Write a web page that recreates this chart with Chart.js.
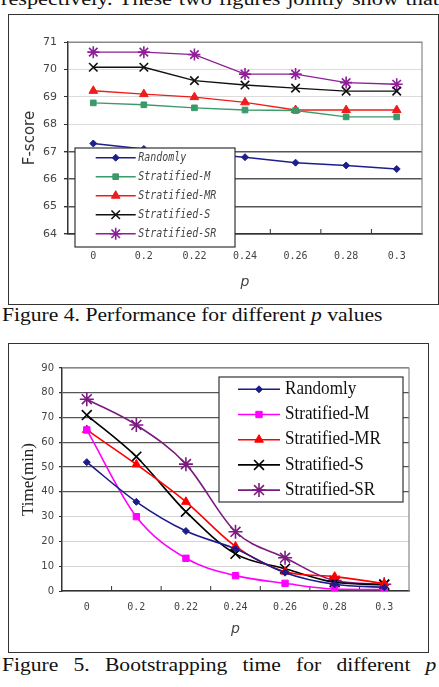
<!DOCTYPE html>
<html>
<head>
<meta charset="utf-8">
<script src="https://cdn.jsdelivr.net/npm/chart.js@4.4.0/dist/chart.umd.min.js"></script>
<style>
    body { margin: 0; width: 439px; height: 687px; overflow: hidden; background: #fff; position: relative; font-family: "Liberation Serif", serif; color: #111; }
    .para { position: absolute; left: 1px; white-space: nowrap; font-size: 19px; line-height: 20px; transform: scaleX(1.17); transform-origin: left top; word-spacing: 1px; }
    .box { position: absolute; border: 1.5px solid #333; box-sizing: border-box; }
    canvas { position: absolute; }
    .cap { position: absolute; left: 2px; font-size: 18px; line-height: 20px; white-space: nowrap; transform: scaleX(1.2); transform-origin: left top; }
    .justify { width: 362px; text-align: justify; text-align-last: justify; white-space: normal; }
</style>
</head>
<body>
<div class="para" style="top:-11px">respectively. These two figures jointly show that</div>

<div class="box" style="left:8px; top:14px; width:431px; height:291px;"></div>
<canvas id="fscoreChart" width="430" height="291" style="left:8px; top:14px;"></canvas>
<div class="cap" style="top:305px">Figure 4. Performance for different <i>p</i> values</div>

<div class="box" style="left:8px; top:343px; width:421px; height:310px;"></div>
<canvas id="timeChart" width="420" height="309" style="left:8px; top:343px;"></canvas>
<div class="cap justify" style="top:655px">Figure 5. Bootstrapping time for different <i>p</i></div>

<script>
// x categories (p values)
const pValues = ['0', '0.2', '0.22', '0.24', '0.26', '0.28', '0.3'];
const seriesNames = ['Randomly', 'Stratified-M', 'Stratified-MR', 'Stratified-S', 'Stratified-SR'];

// Figure 4: F-score
const fscoreTicks = { min: 64, max: 71, step: 1 };
const fscoreRandomly = [67.3, 67.1, 66.95, 66.8, 66.6, 66.5, 66.37];
const fscoreM = [68.78, 68.71, 68.6, 68.52, 68.5, 68.27, 68.27];
const fscoreMR = [69.22, 69.1, 68.99, 68.8, 68.52, 68.52, 68.52];
const fscoreS = [70.08, 70.08, 69.59, 69.43, 69.32, 69.21, 69.21];
const fscoreSR = [70.63, 70.63, 70.54, 69.83, 69.83, 69.52, 69.46];

// Figure 5: bootstrapping time (min)
const timeTicks = { min: 0, max: 90, step: 10 };
const timeRandomly = [52, 36, 24.2, 17, 7.4, 2.7, 1.5];
const timeM = [65, 30, 13.2, 6.2, 3.1, 0.8, 0.6];
const timeMR = [65, 51.1, 36, 18, 7.8, 5.8, 3];
const timeS = [71, 54.2, 32, 15, 9, 3.5, 2.5];
const timeSR = [77.4, 67, 51.2, 23.9, 13.4, 4.2, 2.7];

// legend drawn inside the plot, Excel style
const boxLegend = {
    id: 'boxLegend',
    afterDraw(chart, args, opts) {
        const ctx = chart.ctx;
        ctx.save();
        ctx.fillStyle = '#fff';
        ctx.fillRect(opts.x, opts.y, opts.w, opts.h);
        ctx.strokeStyle = '#333';
        ctx.lineWidth = 1.2;
        ctx.strokeRect(opts.x, opts.y, opts.w, opts.h);
        chart.data.datasets.forEach((ds, i) => {
            const y = opts.rowY + i * opts.rowGap;
            ctx.strokeStyle = ds.borderColor;
            ctx.lineWidth = ds.borderWidth;
            ctx.beginPath();
            ctx.moveTo(opts.lineX0, y);
            ctx.lineTo(opts.lineX1, y);
            ctx.stroke();
            ctx.fillStyle = ds.pointBackgroundColor;
            ctx.lineWidth = ds.pointBorderWidth;
            Chart.helpers.drawPoint(ctx, {
                pointStyle: ds.pointStyle, radius: ds.pointRadius, borderWidth: ds.pointBorderWidth, rotation: 0
            }, (opts.lineX0 + opts.lineX1) / 2, y);
            ctx.font = opts.font;
            ctx.fillStyle = opts.color;
            ctx.textBaseline = 'middle';
            ctx.save();
            ctx.translate(opts.textX, y);
            ctx.scale(opts.sx, 1);
            ctx.fillText(ds.label, 0, 0);
            ctx.restore();
        });
        ctx.restore();
    }
};

// top/right plot border and inward tick marks between categories
const plotFrame = {
    id: 'plotFrame',
    beforeDatasetsDraw(chart, args, opts) {
        const { ctx, chartArea: a } = chart;
        const xs = chart.scales.x;
        ctx.save();
        ctx.strokeStyle = '#888';
        ctx.lineWidth = 1.2;
        ctx.beginPath();
        ctx.moveTo(a.left, a.top);
        ctx.lineTo(a.right, a.top);
        ctx.lineTo(a.right, a.bottom);
        ctx.stroke();
        ctx.strokeStyle = '#333';
        ctx.lineWidth = 1;
        ctx.beginPath();
        for (let i = 1; i < chart.data.labels.length; i++) {
            const x = (xs.getPixelForValue(i - 1) + xs.getPixelForValue(i)) / 2;
            ctx.moveTo(x, a.bottom);
            ctx.lineTo(x, a.bottom - opts.tickLen);
        }
        ctx.stroke();
        ctx.restore();
    }
};

function makeSeries(label, data, color, style, radius, width) {
    return {
        label: label,
        data: data,
        borderColor: color,
        backgroundColor: color,
        pointBackgroundColor: color,
        pointBorderColor: color,
        pointStyle: style,
        pointRadius: radius,
        pointHoverRadius: radius,
        pointBorderWidth: style === 'crossRot' || style === 'star' ? 1.6 : 1,
        borderWidth: width
    };
}

// Figure 4
new Chart(document.getElementById('fscoreChart'), {
    type: 'line',
    data: {
        labels: pValues,
        datasets: [
            makeSeries(seriesNames[0], fscoreRandomly, '#1f1f8c', 'rectRot', 3.5, 1.4),
            makeSeries(seriesNames[1], fscoreM, '#3a9a6c', 'rect', 4, 1.4),
            makeSeries(seriesNames[2], fscoreMR, '#ee1c1c', 'triangle', 5, 1.4),
            makeSeries(seriesNames[3], fscoreS, '#111111', 'crossRot', 6, 1.4),
            makeSeries(seriesNames[4], fscoreSR, '#8e1f98', 'star', 6, 1.4)
        ]
    },
    options: {
        responsive: false,
        animation: false,
        layout: { padding: { top: 28, right: 16, left: 0, bottom: 0 } },
        elements: { line: { tension: 0 } },
        scales: {
            x: {
                offset: true,
                grid: { display: false, drawTicks: false },
                border: { display: true, color: '#333', width: 1.5 },
                ticks: { font: { family: 'DejaVu Sans Mono', size: 10 }, color: '#444', padding: 16 },
                title: { display: true, text: 'p', color: '#444', font: { family: 'DejaVu Sans', style: 'italic', size: 14 }, padding: { top: 0, bottom: 14 } },
                afterFit: scale => { scale.height = 71; }
            },
            y: {
                min: fscoreTicks.min,
                max: fscoreTicks.max,
                ticks: { stepSize: fscoreTicks.step, font: { family: 'DejaVu Sans', size: 11 }, color: '#444', padding: 7 },
                grid: {
                    tickLength: 4,
                    tickColor: '#333',
                    color: c => c.tick.value === fscoreTicks.max ? '#888' : (c.tick.value >= 68 ? '#dcdcdc' : '#555'),
                    lineWidth: c => c.tick.value >= 68 ? 1 : 1.4
                },
                border: { display: true, color: '#333', width: 1.5 },
                title: { display: true, text: 'F-score', color: '#333', font: { family: 'DejaVu Sans', size: 15 }, padding: { top: 13, bottom: 0 } },
                afterFit: scale => { scale.width = 60; }
            }
        },
        plugins: {
            legend: { display: false },
            tooltip: { enabled: false },
            plotFrame: { tickLen: 5 },
            boxLegend: {
                x: 67, y: 134, w: 160, h: 99,
                rowY: 143.7, rowGap: 19,
                lineX0: 87.7, lineX1: 127.7, textX: 130.3,
                font: 'oblique 12px "DejaVu Sans Mono"', color: '#444', sx: 0.83
            }
        }
    },
    plugins: [plotFrame, boxLegend]
});

// Figure 5
new Chart(document.getElementById('timeChart'), {
    type: 'line',
    data: {
        labels: pValues,
        datasets: [
            makeSeries(seriesNames[0], timeRandomly, '#1c1c8a', 'rectRot', 3.5, 1.6),
            makeSeries(seriesNames[1], timeM, '#ff00ff', 'rect', 4.5, 1.6),
            makeSeries(seriesNames[2], timeMR, '#ff0000', 'triangle', 5, 1.6),
            makeSeries(seriesNames[3], timeS, '#000000', 'crossRot', 7, 1.6),
            makeSeries(seriesNames[4], timeSR, '#7d1a80', 'star', 7, 1.6)
        ]
    },
    options: {
        responsive: false,
        animation: false,
        layout: { padding: { top: 25, right: 19, left: 0, bottom: 0 } },
        elements: { line: { cubicInterpolationMode: 'monotone' } },
        scales: {
            x: {
                offset: true,
                grid: { display: false, drawTicks: false },
                border: { display: true, color: '#333', width: 1.5 },
                ticks: { font: { family: 'DejaVu Sans Mono', size: 10 }, color: '#444', padding: 10 },
                title: { display: true, text: 'p', color: '#444', font: { family: 'DejaVu Sans', style: 'italic', size: 14 }, padding: { top: 0, bottom: 14 } },
                afterFit: scale => { scale.height = 61; }
            },
            y: {
                min: timeTicks.min,
                max: timeTicks.max,
                ticks: { stepSize: timeTicks.step, font: { family: 'DejaVu Sans', size: 10 }, color: '#444', padding: 5 },
                grid: {
                    tickLength: 3,
                    tickColor: '#333',
                    color: c => c.tick.value === timeTicks.max ? '#888' : (c.tick.value >= 40 ? '#555' : '#d4d4d4'),
                    lineWidth: c => c.tick.value >= 40 ? 1.3 : 1
                },
                border: { display: true, color: '#333', width: 1.5 },
                title: { display: true, text: 'Time(min)', color: '#222', font: { family: 'Liberation Serif', size: 17 }, padding: { top: 10, bottom: 0 } },
                afterFit: scale => { scale.width = 54; }
            }
        },
        plugins: {
            legend: { display: false },
            tooltip: { enabled: false },
            plotFrame: { tickLen: 5 },
            boxLegend: {
                x: 211, y: 34, w: 184, h: 125,
                rowY: 46.3, rowGap: 25.2,
                lineX0: 230, lineX1: 272, textX: 277,
                font: '18px "Liberation Serif"', color: '#111', sx: 0.95
            }
        }
    },
    plugins: [plotFrame, boxLegend]
});
</script>
</body>
</html>
